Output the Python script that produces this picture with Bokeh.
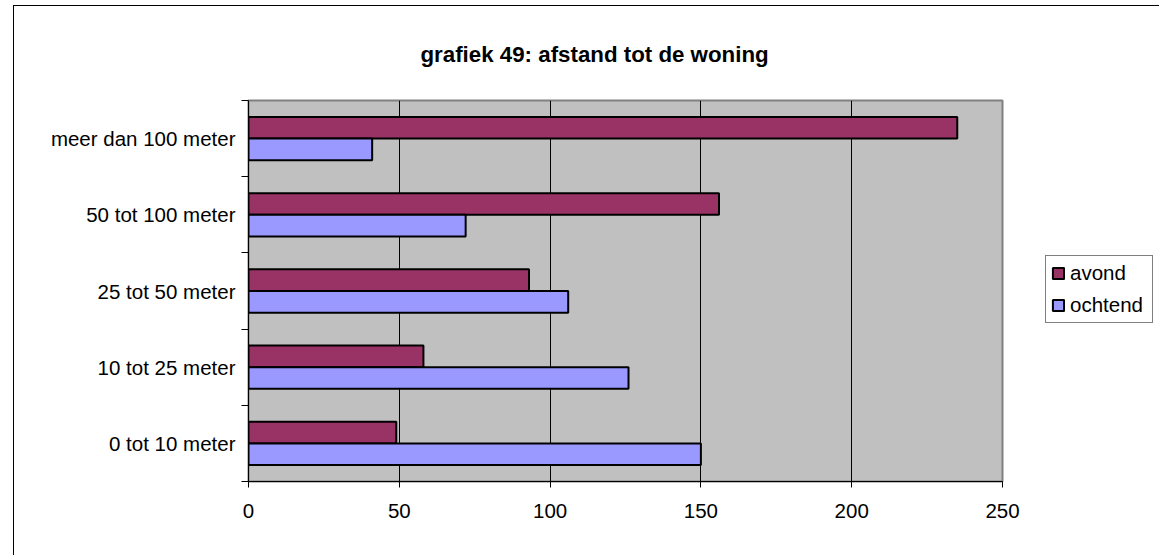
from bokeh.plotting import figure
from bokeh.models import (Range1d, FixedTicker, ColumnDataSource, Legend, LegendItem)
from bokeh.embed import file_html
from bokeh.resources import INLINE

# ---- data ----
categories = ["0 tot 10 meter", "10 tot 25 meter", "25 tot 50 meter", "50 tot 100 meter", "meer dan 100 meter"]
avond = [49, 58, 93, 156, 235]
ochtend = [150, 126, 106, 72, 41]
series_names = ["avond", "ochtend"]
series_colors = ["#993366", "#9999FF"]
x_ticks = [0, 50, 100, 150, 200, 250]
title_text = "grafiek 49: afstand tot de woning"

FONT = "Liberation Sans"
n = len(categories)
centers = [i + 0.5 for i in range(n)]
bar_h = 0.284

p = figure(frame_width=754, frame_height=381, output_backend="svg", toolbar_location=None,
           x_range=Range1d(0, 250), y_range=Range1d(0, n),
           min_border_left=234, min_border_right=156, min_border_top=93, min_border_bottom=74)
p.styles = {"border-left": "1px solid #000000", "border-top": "1px solid #000000"}
p.margin = (5, 0, 0, 13)

p.background_fill_color = "#C0C0C0"
p.border_fill_color = "white"
p.outline_line_color = "#808080"
p.outline_line_width = 2

p.title.text = title_text
p.title.align = "left"
p.title.offset = 172
p.title.standoff = 67
p.title.text_font = FONT
p.title.text_font_style = "bold"
p.title.text_font_size = "22.3px"
p.title.text_color = "black"

src = ColumnDataSource(dict(
    cat=categories,
    y_av=[c + bar_h / 2 for c in centers],
    y_och=[c - bar_h / 2 for c in centers],
    avond=avond, ochtend=ochtend))

r_av = p.hbar(y="y_av", right="avond", left=0, height=bar_h, source=src,
              fill_color=series_colors[0], line_color="black", line_width=2)
r_och = p.hbar(y="y_och", right="ochtend", left=0, height=bar_h, source=src,
               fill_color=series_colors[1], line_color="black", line_width=2)

# x axis
p.xaxis.ticker = FixedTicker(ticks=x_ticks)
p.xaxis.axis_line_color = "black"
p.xaxis.major_tick_out = 6
p.xaxis.major_tick_in = 0
p.xaxis.minor_tick_out = 0
p.xaxis.major_label_standoff = 16
p.xaxis.major_label_text_font = FONT
p.xaxis.major_label_text_font_size = "20.5px"
p.xaxis.major_label_text_color = "black"

# y axis: labels at category centres, ticks at category boundaries
p.yaxis.ticker = FixedTicker(ticks=centers, minor_ticks=list(range(n + 1)))
p.yaxis.major_label_overrides = {c: cat for c, cat in zip(centers, categories)}
p.yaxis.axis_line_color = "black"
p.yaxis.major_tick_out = 0
p.yaxis.major_tick_in = 0
p.yaxis.minor_tick_out = 7
p.yaxis.minor_tick_in = 0
p.yaxis.minor_tick_line_color = "black"
p.yaxis.major_label_standoff = 6
p.yaxis.major_label_text_font = FONT
p.yaxis.major_label_text_font_size = "20.5px"
p.yaxis.major_label_text_color = "black"

p.xgrid.ticker = FixedTicker(ticks=x_ticks[1:-1])
p.xgrid.grid_line_color = "black"
p.xgrid.grid_line_width = 1
p.ygrid.grid_line_color = None

legend = Legend(items=[LegendItem(label=series_names[0], renderers=[r_av]),
                       LegendItem(label=series_names[1], renderers=[r_och])],
                location=(43, 158), orientation="vertical",
                label_text_font=FONT, label_text_font_size="20.5px",
                label_text_color="black",
                glyph_width=14, glyph_height=14, label_standoff=5,
                label_height=20, label_width=77, spacing=8, padding=5, margin=0,
                border_line_color="black", border_line_width=1,
                background_fill_color="white", background_fill_alpha=1.0)
p.add_layout(legend, "right")

open("out.html", "w").write(file_html(p, INLINE))
